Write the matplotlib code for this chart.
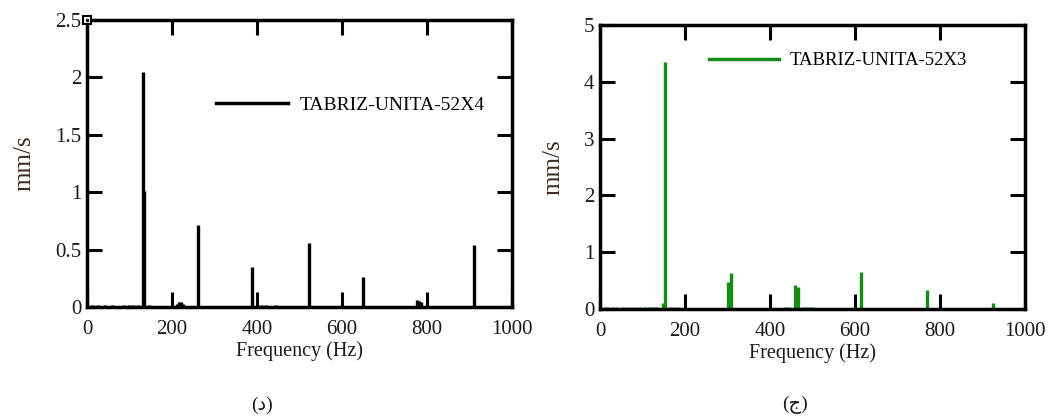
import numpy as np
import matplotlib.pyplot as plt

plt.rcParams['font.family'] = ['Liberation Serif', 'DejaVu Sans']

# left panel (black) - TABRIZ-UNITA-52X4
f_x4 = [12, 27, 43, 59, 86, 98, 109, 121, 131, 135, 145, 172, 211, 216, 221, 227,
        262, 334, 389, 410, 422, 434, 445, 453, 522, 539, 650, 777, 781, 785, 910, 959]
a_x4 = [0.02, 0.02, 0.02, 0.02, 0.02, 0.02, 0.02, 0.02, 2.05, 1.01, 0.02, 0.01, 0.03, 0.04, 0.04, 0.03,
        0.71, 0.01, 0.35, 0.02, 0.02, 0.01, 0.02, 0.01, 0.555, 0.01, 0.265, 0.06, 0.055, 0.04, 0.54, 0.01]

# right panel (green) - TABRIZ-UNITA-52X3
f_x3 = [12, 20, 30, 40, 54, 65, 75, 85, 95, 105, 115, 123, 130, 135, 148, 153, 165, 172, 181,
        208, 235, 254, 302, 308, 435, 442, 458, 465, 477, 485, 492, 500, 519, 614, 769, 925]
a_x3 = [0.04, 0.04, 0.04, 0.04, 0.04, 0.04, 0.04, 0.04, 0.04, 0.04, 0.04, 0.04, 0.04, 0.04, 0.1, 4.35, 0.03, 0.03, 0.03,
        0.02, 0.02, 0.02, 0.48, 0.63, 0.03, 0.03, 0.43, 0.39, 0.03, 0.04, 0.03, 0.03, 0.02, 0.66, 0.33, 0.11]

green = '#168c16'
txt = '#1a1a1a'

fig = plt.figure(figsize=(10.57, 4.19), dpi=100)
ax1 = fig.add_axes([0.0823, 0.2673, 0.402, 0.685])
ax2 = fig.add_axes([0.5676, 0.2625, 0.402, 0.678])


def style(ax, ymax, yticks):
  ax.set_xlim(0, 1000)
  ax.set_ylim(0, ymax)
  ax.set_xticks([0, 200, 400, 600, 800, 1000])
  ax.set_yticks(yticks)
  ax.set_yticklabels([('%g' % v) for v in yticks])
  ax.tick_params(direction='in', length=11, width=2.2, top=True, right=True,
                 labelsize=15, labelcolor=txt)
  ax.tick_params(axis='x', pad=9)
  ax.tick_params(axis='y', pad=4)
  for s in ax.spines.values():
    s.set_linewidth(2.5)
  ax.set_xlabel('Frequency (Hz)', fontsize=14.5, color=txt, labelpad=2)
  ax.set_ylabel('mm/s', fontsize=18, color='#3a2a20', labelpad=14)


ax1.vlines(f_x4, 0, a_x4, color='black', lw=2.4)
style(ax1, 2.5, [0, 0.5, 1, 1.5, 2, 2.5])
ax1.plot([0], [2.5], marker='s', ms=6, mfc='white', mec='black', mew=1.5, clip_on=False, zorder=5)
ax1.plot([0], [2.5], marker='.', ms=3, color='black', clip_on=False, zorder=6)
ax1.plot([], [], color='black', lw=2.5, label='TABRIZ-UNITA-52X4')
ax1.legend(loc='upper left', bbox_to_anchor=(0.285, 0.76), frameon=False, fontsize=14,
           handlelength=3.7, handletextpad=0.6, borderaxespad=0)

ax2.vlines(f_x3, 0, a_x3, color=green, lw=2.4)
style(ax2, 5, [0, 1, 2, 3, 4, 5])
ax2.plot([], [], color=green, lw=2.5, label='TABRIZ-UNITA-52X3')
ax2.legend(loc='upper left', bbox_to_anchor=(0.24, 0.93), frameon=False, fontsize=13.5,
           handlelength=3.7, handletextpad=0.6, borderaxespad=0)

fig.text(262 / 1057, 1 - 405 / 419, '(د)', ha='center', va='center', fontsize=14, color=txt)
fig.text(795 / 1057, 1 - 405 / 419, '(ج)', ha='center', va='center', fontsize=14, color=txt)

fig.savefig('out.png', dpi=100)
